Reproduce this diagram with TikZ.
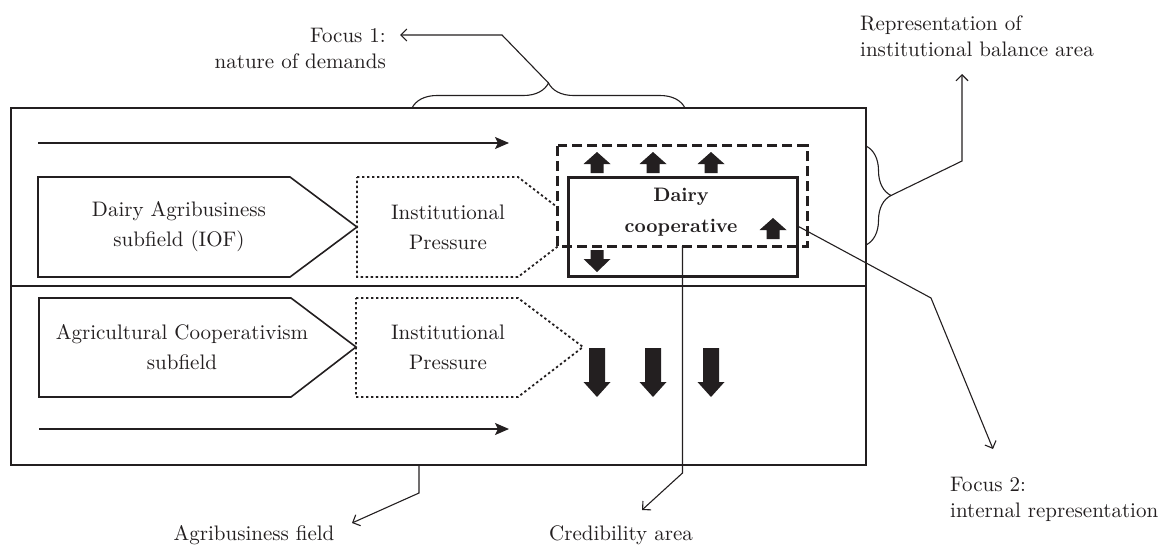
\documentclass[tikz,border=0pt]{standalone}
\usepackage{fontspec}
\setmainfont{lmroman10}[Extension=.otf, UprightFont=*-regular, BoldFont=*-bold, ItalicFont=*-italic, BoldItalicFont=*-bolditalic]
\usetikzlibrary{arrows.meta,decorations.pathreplacing,calc}
\definecolor{ink}{RGB}{35,31,32}
\tikzset{
  txt/.style={font=\fontsize{21}{30}\selectfont, text=ink, inner sep=0pt, align=center},
  cooptxt/.style={font=\fontsize{19.5}{31}\selectfont\bfseries, text=ink, inner sep=0pt, align=center},
  annot/.style={font=\fontsize{21}{26}\selectfont, text=ink, inner sep=0pt},
  frame/.style={draw=ink, line width=1.6pt},
  pent/.style={draw=ink, line width=1.6pt, line join=miter},
  dotpent/.style={draw=ink, line width=1.8pt, dash pattern=on 2.4pt off 2.6pt},
  balbox/.style={fill=white, minimum width=249pt, minimum height=100pt, inner sep=0pt},
  balline/.style={draw=ink, line width=3pt, dash pattern=on 10pt off 5pt},
  coopbox/.style={draw=ink, line width=3pt, minimum width=229pt, minimum height=99pt, inner sep=0pt},
  flow/.style={draw=ink, line width=1.5pt, -{Stealth[length=14pt,width=12pt,inset=3pt]}},
  leader/.style={draw=ink, line width=1.1pt, -{Straight Barb[length=6pt,width=12pt]}},
  bracel/.style={draw=ink, line width=1.1pt, decorate, decoration={brace, amplitude=25pt}},
  blockup/.pic={\fill[ink] (0,0) -- (13.5,12) -- (6.5,12) -- (6.5,21) -- (-6.5,21) -- (-6.5,12) -- (-13.5,12) -- cycle;},
  blockdown/.pic={\fill[ink] (-6.5,0) -- (6.5,0) -- (6.5,9) -- (13.5,9) -- (0,22) -- (-13.5,9) -- (-6.5,9) -- cycle;},
  bigdown/.pic={\fill[ink] (-8,0) -- (8,0) -- (8,34) -- (13.5,34) -- (0,49) -- (-13.5,34) -- (-8,34) -- cycle;}
}
\begin{document}
\begin{tikzpicture}[x=1pt,y=-1pt]
\useasboundingbox (0,0) rectangle (1174,546);
% field frame
\draw[frame] (11,108) rectangle (866,465);
\draw[frame] (11,286) -- (866,286);
\coordinate (fieldS) at (419,465);
% flows
\coordinate (f1a) at (38,143); \coordinate (f1b) at (509,143);
\coordinate (f2a) at (39,429); \coordinate (f2b) at (509,429);
\draw[flow] (f1a) -- (f1b);
\draw[flow] (f2a) -- (f2b);
% pentagons
\draw[pent] (38,177) -- (290,177) -- (357,227) -- (290,277) -- (38,277) -- cycle;
\draw[pent] (39,298) -- (291,298) -- (356,347) -- (291,397) -- (39,397) -- cycle;
\draw[dotpent] (357,177) -- (518,177) -- (583,227) -- (518,277) -- (357,277) -- cycle;
\draw[dotpent] (356,298) -- (518,298) -- (583,347) -- (518,397) -- (356,397) -- cycle;
% balance area and cooperative
\node[balbox] (bal) at (682.5,196) {};
\node[coopbox] (coop) at (682.5,226.5) {};
\draw[balline] (bal.north west) rectangle (bal.south east);
% block arrows
\pic at (597,152) {blockup};
\pic at (653,152) {blockup};
\pic at (711,152) {blockup};
\pic at (773,218) {blockup};
\pic at (597,250) {blockdown};
\pic at (597,348) {bigdown};
\pic at (653,348) {bigdown};
\pic at (711,348) {bigdown};
% texts
\node[txt] (iof) at (179,227) {Dairy Agribusiness\\subfield (IOF)};
\node[txt] (ip1) at (448,227) {Institutional\\Pressure};
\node[cooptxt] (coopt) at (681,212) {Dairy\\cooperative};
\node[txt] (acs) at (182,347) {Agricultural Cooperativism\\subfield};
\node[txt] (ip2) at (448,347) {Institutional\\Pressure};
% annotation labels
\node[annot, align=right, anchor=east] (focus1) at (386,48) {Focus 1:\\nature of demands};
\node[annot, align=left, anchor=west] (rep) at (860,36) {Representation of\\institutional balance area};
\node[annot, align=left, anchor=west] (focus2) at (950,499) {Focus 2:\\internal representation};
\node[annot] (agri) at (254,535) {Agribusiness field};
\node[annot] (cred) at (621,535) {Credibility area};
% braces
\draw[bracel] (412,108) -- (685,108);
\coordinate (tipA) at (548.5,83);
\draw[bracel] (866,146) -- (866,245);
\coordinate (tipB) at (891,195.5);
% leader ends
\coordinate (f1end) at (400,35);
\coordinate (repend) at (962,74);
\coordinate (f2end) at (993,449);
\coordinate (agriend) at (352,523);
\coordinate (credend) at (642,510);
% leaders
\draw[leader] (tipA) -- (502,35) -- (f1end);
\draw[leader] (tipB) -- (962,161) -- (repend);
\draw[leader] (coop.east) -- (931,298) -- (f2end);
\draw[leader] (fieldS) -- (419,493) -- (agriend);
\draw[leader] (bal.south) -- (682.5,473) -- (credend);
\end{tikzpicture}
\end{document}
